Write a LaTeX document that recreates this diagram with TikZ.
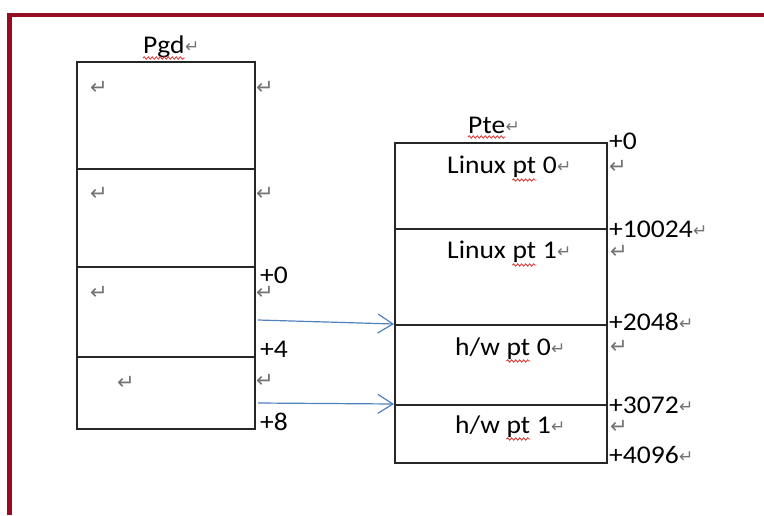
\documentclass[tikz,border=0pt]{standalone}
\usepackage{fontspec}
\setmainfont{Carlito}[FakeStretch=1.08]
\newfontfamily\dvmark{DejaVu Sans}
\usetikzlibrary{arrows.meta,decorations.pathmorphing}
\definecolor{framered}{RGB}{150,12,32}
\definecolor{arrowblue}{RGB}{79,129,189}
\definecolor{markgray}{RGB}{115,115,115}
\definecolor{wavered}{RGB}{225,50,50}
\tikzset{
 cell/.style={draw=black!85, line width=1.7pt, inner sep=0pt, anchor=north west},
 txt/.style={font=\fontsize{25.5}{30}\selectfont, inner sep=0pt, anchor=base west, text=black},
 pmark/.style={font=\dvmark\fontsize{21}{23}\selectfont, text=markgray, inner sep=0pt, anchor=base west},
 tmark/.style={font=\dvmark\fontsize{17}{19}\selectfont, text=markgray, inner sep=0pt, anchor=base west},
 wave/.style={draw=wavered, line width=0.8pt, decorate, decoration={snake, amplitude=1.2pt, segment length=4pt}},
 ptr/.style={draw=arrowblue, line width=1.2pt, -{Straight Barb[length=15pt,width=19pt]}},
}
\begin{document}
\begin{tikzpicture}[x=1pt,y=-1pt]
\fill[white] (0,0) rectangle (764,515);
\useasboundingbox (0,0) rectangle (764,515);
% page frame
\fill[framered] (7,13) rectangle (764,17);
\fill[framered] (7,13) rectangle (12,515);

% Pgd table
\node[cell, minimum width=178pt, minimum height=107pt] (pgd1) at (76,61) {};
\node[cell, minimum width=178pt, minimum height=98pt] (pgd2) at (76,168) {};
\node[cell, minimum width=178pt, minimum height=90pt] (pgd3) at (76,266) {};
\node[cell, minimum width=178pt, minimum height=72pt] (pgd4) at (76,356) {};

% Pte table
\node[cell, minimum width=212pt, minimum height=86pt] (pte1) at (394,142) {};
\node[cell, minimum width=212pt, minimum height=96pt] (pte2) at (394,228) {};
\node[cell, minimum width=212pt, minimum height=80pt] (pte3) at (394,324) {};
\node[cell, minimum width=212pt, minimum height=58pt] (pte4) at (394,404) {};

% titles
\node[txt] (pgdlbl) at (143,53) {Pgd};
\node[tmark] (pgdm) at ([yshift=1pt]pgdlbl.base east) {↵};
\draw[wave] ([yshift=-5pt]pgdlbl.base west) -- ([yshift=-5pt]pgdlbl.base east);
\node[txt] (ptelbl) at (468,133) {Pte};
\node[tmark] (ptem) at ([yshift=1pt]ptelbl.base east) {↵};
\draw[wave] ([yshift=-4pt]ptelbl.base west) -- ([yshift=-4pt]ptelbl.base east);

% Pgd paragraph marks
\node[pmark] (m1) at (90,94) {↵};
\node[pmark] (m2) at (256,94) {↵};
\node[pmark] (m3) at (90,200) {↵};
\node[pmark] (m4) at (256,200) {↵};
\node[pmark] (m5) at (90,299) {↵};
\node[pmark] (m6) at (256,299) {↵};
\node[pmark] (m7) at (117,389) {↵};
\node[pmark] (m8) at (256,387) {↵};

% Pgd offsets
\node[txt] (g0) at (260,283) {+0};
\node[txt] (g4) at (260,357) {+4};
\node[txt] (g8) at (260,430) {+8};

% Pte cell texts
\node[txt] (c1a) at (447,173) {Linux\ \mbox{}};
\node[txt] (c1p) at (c1a.base east) {pt};
\node[txt] (c1b) at (c1p.base east) {\ 0};
\node[tmark] (c1m) at ([yshift=1pt]c1b.base east) {↵};
\draw[wave] ([yshift=-7pt]c1p.base west) -- ([yshift=-7pt]c1p.base east);

\node[txt] (c2a) at (447,258) {Linux\ \mbox{}};
\node[txt] (c2p) at (c2a.base east) {pt};
\node[txt] (c2b) at (c2p.base east) {\ 1};
\node[tmark] (c2m) at ([yshift=1pt]c2b.base east) {↵};
\draw[wave] ([yshift=-7pt]c2p.base west) -- ([yshift=-7pt]c2p.base east);

\node[txt] (c3a) at (455,355) {h/w\ \mbox{}};
\node[txt] (c3p) at (c3a.base east) {pt};
\node[txt] (c3b) at (c3p.base east) {\ 0};
\node[tmark] (c3m) at ([yshift=1pt]c3b.base east) {↵};
\draw[wave] ([yshift=-6pt]c3p.base west) -- ([yshift=-6pt]c3p.base east);

\node[txt] (c4a) at (455,433) {h/w\ \mbox{}};
\node[txt] (c4p) at (c4a.base east) {pt};
\node[txt] (c4b) at (c4p.base east) {\ 1};
\node[tmark] (c4m) at ([yshift=1pt]c4b.base east) {↵};
\draw[wave] ([yshift=-6pt]c4p.base west) -- ([yshift=-6pt]c4p.base east);

% Pte offsets
\node[txt] (o0) at (609,149) {+0};
\node[txt] (o1) at (609,237) {+10024};
\node[tmark] (o1m) at ([yshift=1pt]o1.base east) {↵};
\node[txt] (o2) at (609,330) {+2048};
\node[tmark] (o2m) at ([yshift=1pt]o2.base east) {↵};
\node[txt] (o3) at (609,413) {+3072};
\node[tmark] (o3m) at ([yshift=1pt]o3.base east) {↵};
\node[txt] (o4) at (609,463) {+4096};
\node[tmark] (o4m) at ([yshift=1pt]o4.base east) {↵};

% Pte paragraph marks
\node[pmark] (r1) at (609,173) {↵};
\node[pmark] (r2) at (610,258) {↵};
\node[pmark] (r3) at (610,353) {↵};
\node[pmark] (r4) at (610,433) {↵};

% pointers
\coordinate (s1) at (258,320);
\coordinate (s2) at (258,403);
\draw[ptr] (s1) -- (pte3.north west);
\draw[ptr] (s2) -- (pte4.north west);
\end{tikzpicture}
\end{document}
